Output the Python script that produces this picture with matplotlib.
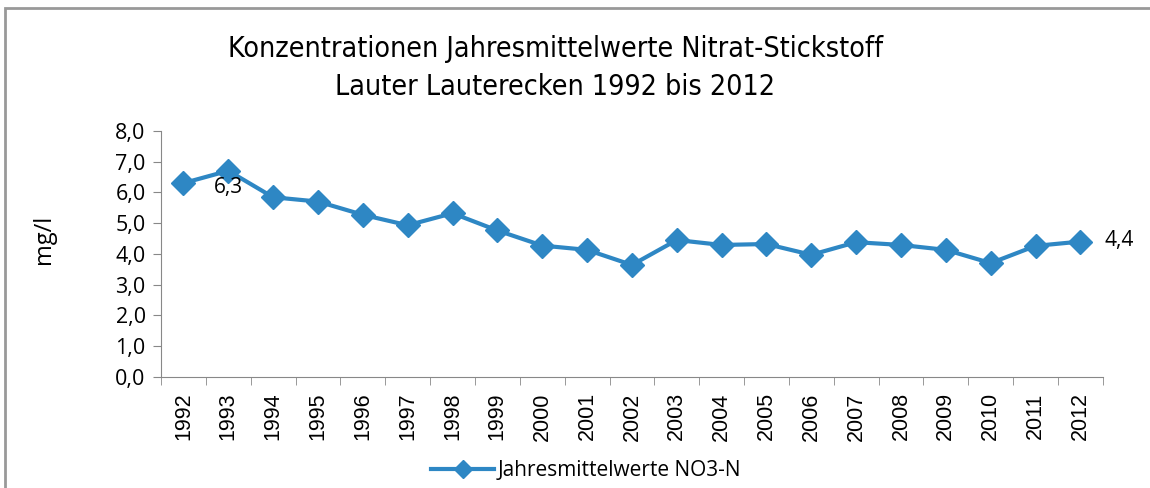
import matplotlib.pyplot as plt
from matplotlib.patches import Rectangle
from matplotlib.ticker import FixedLocator, FuncFormatter

plt.rcParams['font.family'] = ['Open Sans', 'DejaVu Sans']

# yearly means NO3-N (mg/l)
years = [str(y) for y in range(1992, 2013)]
values = [6.3, 6.7, 5.84, 5.7, 5.27, 4.93, 5.32, 4.76, 4.27, 4.13, 3.64,
          4.45, 4.29, 4.32, 3.97, 4.38, 4.29, 4.13, 3.7, 4.26, 4.4]
line_color = '#2E87C4'

fig = plt.figure(figsize=(11.5, 4.88), dpi=100)
ax = fig.add_axes([0.14, 0.2275, 0.819, 0.5045])

x_pos = range(len(years))
ax.plot(x_pos, values, color=line_color, lw=3, marker='D', markersize=12,
        label='Jahresmittelwerte NO3-N')

ax.set_xlim(-0.5, len(years) - 0.5)
ax.set_ylim(0, 8)
ax.set_yticks(range(0, 9))
ax.yaxis.set_major_formatter(FuncFormatter(lambda v, p: ('%.1f' % v).replace('.', ',')))
ax.set_xticks(list(x_pos))
ax.set_xticklabels(years, rotation=90, fontsize=15.5, family=['Liberation Sans'])
# ticks sit between the categories
ax.xaxis.set_minor_locator(FixedLocator([i - 0.5 for i in range(len(years) + 1)]))
ax.tick_params(axis='x', which='major', length=0, pad=11)
ax.tick_params(axis='x', which='minor', length=6, color='#888888', direction='out')
ax.tick_params(axis='y', labelsize=15.5, length=6, color='#888888', direction='out', pad=5)

for s in ['top', 'right']:
    ax.spines[s].set_visible(False)
for s in ['left', 'bottom']:
    ax.spines[s].set_color('#888888')

ax.set_ylabel('mg/l', fontsize=17)
ax.yaxis.set_label_coords(-0.112, 0.56)

# data labels
ax.annotate('6,3', (1, values[1]), xytext=(0, -12), textcoords='offset points',
            ha='center', va='center', fontsize=15)
ax.annotate('4,4', (20, values[20]), xytext=(28, 1), textcoords='offset points',
            ha='center', va='center', fontsize=15)

fig.text(0.483, 0.9, 'Konzentrationen Jahresmittelwerte Nitrat-Stickstoff',
         ha='center', va='center', fontsize=20.5, family=['DejaVu Sans'], stretch='condensed')
fig.text(0.483, 0.822, 'Lauter Lauterecken 1992 bis 2012',
         ha='center', va='center', fontsize=20.5, family=['DejaVu Sans'], stretch='condensed')

fig.legend(loc='center', bbox_to_anchor=(0.51, 0.035), frameon=False, fontsize=15,
           handlelength=3.0, handletextpad=0.2, markerscale=0.75)

# chart frame, cut at right and bottom
fig.patches.append(Rectangle((5 / 1150, -0.1), 1.2, 1 - 8 / 488 + 0.1, transform=fig.transFigure,
                             fill=False, edgecolor='#999999', lw=2))

fig.savefig('out.png', dpi=100)
